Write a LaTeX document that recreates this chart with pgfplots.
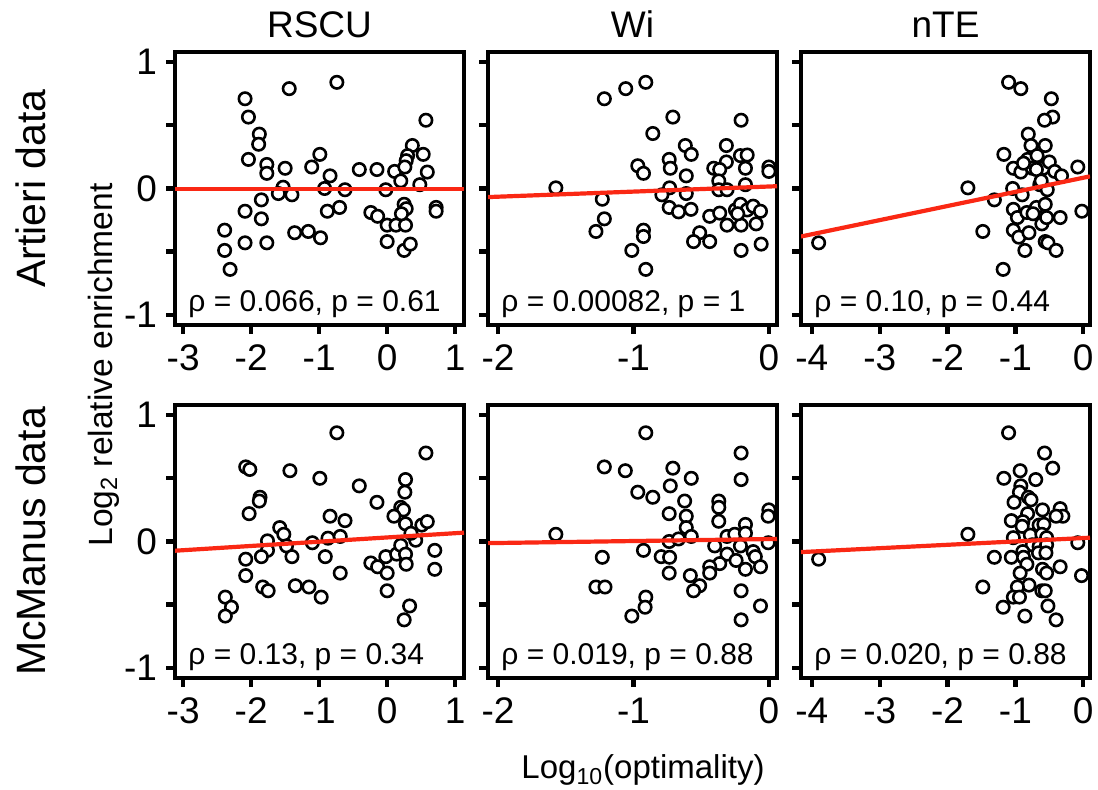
\documentclass[border=0pt]{standalone}
\usepackage{pgfplots}
\pgfplotsset{compat=1.18}
\usepackage{fontspec}
\setmainfont{Liberation Sans}
\definecolor{regred}{RGB}{250,40,20}

\pgfplotsset{
  panel/.style={
    scale only axis, width=144.5pt, height=136.5pt,
    ymin=-1.08, ymax=1.08,
    axis line style={line width=2.2pt},
    every tick/.style={line width=2.2pt, black},
    tick align=outside, major tick length=4.5pt,
    xtick pos=bottom, ytick pos=left,
    ytick={-1,-0.5,0,0.5,1},
    yticklabels={},
    ticklabel style={font=\fontsize{18.5}{20}\selectfont},
    xticklabel style={yshift=-2pt},
    yticklabel style={xshift=-1pt},
    clip mode=individual,
  },
  ylab/.style={yticklabels={-1,,0,,1}},
  pts/.style={only marks, mark=*, mark size=3.1pt,
    mark options={fill=white, draw=black, line width=1.3pt}},
  reg/.style={no marks, line width=2.1pt, regred},
  col1/.style={xmin=-3.12, xmax=1.13, xtick={-3,-2,-1,0,1}, xticklabels={-3,-2,-1,0,1}, ylab},
  col2/.style={xmin=-2.074, xmax=0.06, xtick={-2,-1,0}, xticklabels={-2,-1,0}},
  col3/.style={xmin=-4.16, xmax=0.1, xtick={-4,-3,-2,-1,0}, xticklabels={-4,-3,-2,-1,0}},
}
\newcommand{\stat}[1]{\node[anchor=base west, font=\fontsize{15}{17}\selectfont, inner sep=0pt] at (axis description cs:0.045,0.05) {#1};}
\newcommand{\ctitle}[1]{\node[anchor=base, font=\fontsize{18.5}{20}\selectfont, inner sep=0pt] at ([yshift=7pt]axis description cs:0.5,1) {#1};}

\pgfplotstableread{
x y
-2.09 0.71
-2.04 0.565
-1.44 0.79
-0.74 0.84
0.57 0.54
-1.88 0.43
-1.89 0.35
-2.04 0.23
-1.77 0.19
-1.77 0.12
-1.50 0.16
-1.11 0.17
-0.99 0.27
-0.84 0.10
-0.41 0.15
-0.15 0.15
0.11 0.135
0.37 0.34
0.30 0.26
0.28 0.22
0.26 0.17
0.20 0.06
0.53 0.27
0.59 0.13
0.48 0.03
-0.02 -0.01
-0.62 -0.01
-0.92 0.0
-1.53 0.01
-1.60 -0.04
-1.40 -0.05
-1.85 -0.09
-2.09 -0.18
-1.85 -0.24
-2.39 -0.33
-2.39 -0.49
-2.31 -0.64
-2.09 -0.43
-1.77 -0.43
-1.36 -0.35
-1.16 -0.34
-0.98 -0.39
-0.88 -0.18
-0.70 -0.15
-0.24 -0.19
-0.14 -0.22
0.00 -0.29
0.13 -0.29
0.27 -0.29
0.00 -0.42
0.25 -0.49
0.34 -0.44
0.25 -0.125
0.28 -0.16
0.21 -0.20
0.72 -0.15
0.72 -0.18
}\tA
\pgfplotstableread{
x y
-1.215 0.71
-1.057 0.79
-0.909 0.84
-0.709 0.565
-0.205 0.54
-0.857 0.435
-0.617 0.34
-0.573 0.27
-0.314 0.34
-0.21 0.26
-0.16 0.265
-0.314 0.21
-0.968 0.18
-0.926 0.12
-0.736 0.23
-0.728 0.16
-0.61 0.10
-0.407 0.16
-0.363 0.15
-0.37 0.06
-0.173 0.16
0.0 0.17
0.0 0.135
-1.573 0.005
-0.733 0.005
-0.37 -0.01
-0.309 -0.01
-0.173 0.03
-0.79 -0.05
-0.61 -0.04
-1.23 -0.085
-1.215 -0.24
-1.277 -0.34
-0.926 -0.33
-0.926 -0.38
-1.012 -0.49
-0.909 -0.64
-0.736 -0.15
-0.667 -0.185
-0.575 -0.165
-0.437 -0.22
-0.363 -0.195
-0.511 -0.35
-0.556 -0.42
-0.437 -0.42
-0.309 -0.29
-0.247 -0.17
-0.21 -0.125
-0.205 -0.29
-0.16 -0.17
-0.116 -0.14
-0.094 -0.28
-0.062 -0.18
-0.205 -0.49
-0.057 -0.44
-0.23 -0.20
}\tB
\pgfplotstableread{
x y
-3.90 -0.43
-1.70 0.005
-1.48 -0.34
-1.31 -0.09
-1.18 -0.64
-1.10 0.84
-0.92 0.79
-0.47 0.71
-0.45 0.565
-0.57 0.54
-0.81 0.43
-0.77 0.34
-0.56 0.34
-1.17 0.27
-0.82 0.23
-0.68 0.26
-1.03 0.16
-0.92 0.13
-0.75 0.16
-0.59 0.16
-0.50 0.21
-0.42 0.135
-0.32 0.10
-0.08 0.17
-1.04 0.0
-0.90 -0.05
-0.64 0.03
-0.53 -0.01
-1.03 -0.165
-0.97 -0.23
-0.83 -0.19
-0.69 -0.15
-0.56 -0.125
-0.61 -0.28
-0.54 -0.23
-0.34 -0.23
-0.02 -0.18
-1.03 -0.33
-0.95 -0.385
-0.80 -0.35
-0.86 -0.49
-0.56 -0.42
-0.52 -0.43
-0.40 -0.49
-0.69 0.15
-0.74 -0.20
-0.88 0.20
-0.62 0.06
}\tC
\pgfplotstableread{
x y
-0.74 0.86
0.57 0.70
-2.08 0.59
-2.02 0.57
-1.43 0.56
-0.99 0.50
-0.41 0.44
0.27 0.49
0.26 0.39
-1.87 0.35
-1.88 0.32
-0.15 0.31
-2.03 0.22
-0.84 0.20
-0.62 0.165
0.20 0.27
0.24 0.25
0.10 0.20
0.27 0.14
0.51 0.13
0.59 0.157
-1.58 0.11
-1.52 0.057
-1.76 0.005
-1.10 -0.01
-0.87 0.026
-0.69 0.04
-1.48 -0.035
-1.76 -0.07
-1.85 -0.12
-1.40 -0.12
-2.08 -0.14
-0.91 -0.12
-2.08 -0.27
-1.83 -0.36
-1.75 -0.39
-1.35 -0.35
-1.15 -0.36
-0.97 -0.44
-0.69 -0.25
-0.24 -0.17
-0.14 -0.20
-0.02 -0.12
0.0 -0.25
0.14 -0.10
0.20 -0.03
0.27 -0.10
0.28 -0.18
0.42 0.01
0.35 0.065
0.70 -0.07
0.70 -0.22
0.0 -0.39
0.33 -0.51
0.25 -0.62
-2.38 -0.44
-2.29 -0.52
-2.38 -0.59
}\tD
\pgfplotstableread{
x y
-0.909 0.86
-0.205 0.70
-1.215 0.59
-1.06 0.56
-0.709 0.58
-0.573 0.50
-0.205 0.49
-0.728 0.44
-0.968 0.39
-0.857 0.35
-0.622 0.32
-0.37 0.32
-0.37 0.27
-0.736 0.22
-0.61 0.20
-0.37 0.16
-0.61 0.11
0.0 0.25
-0.005 0.20
-0.173 0.135
-1.573 0.057
-0.736 0.0
-0.667 0.02
-0.573 0.04
-0.309 0.04
-0.252 0.057
-0.173 0.065
-0.005 -0.01
-0.40 -0.035
-0.21 -0.035
-0.926 -0.07
-0.795 -0.12
-0.733 -0.125
-1.23 -0.125
-0.309 -0.10
-0.116 -0.08
-0.10 -0.12
-0.242 -0.15
-0.363 -0.175
-0.437 -0.20
-0.437 -0.25
-0.173 -0.22
-0.062 -0.20
-0.736 -0.25
-0.58 -0.27
-0.511 -0.35
-0.556 -0.39
-1.277 -0.36
-1.21 -0.36
-0.909 -0.44
-0.914 -0.52
-1.012 -0.59
-0.205 -0.39
-0.062 -0.51
-0.205 -0.62
}\tE
\pgfplotstableread{
x y
-3.90 -0.14
-1.70 0.057
-1.48 -0.36
-1.31 -0.125
-1.18 -0.52
-1.10 0.86
-0.57 0.70
-0.45 0.58
-0.93 0.56
-1.17 0.50
-0.70 0.49
-0.92 0.44
-0.94 0.39
-0.81 0.35
-0.77 0.33
-1.02 0.31
-0.60 0.25
-0.34 0.26
-0.30 0.20
-0.40 0.20
-0.82 0.22
-1.06 0.165
-0.89 0.157
-0.90 0.12
-0.65 0.13
-0.58 0.136
-0.78 0.05
-0.61 0.057
-1.03 0.03
-0.54 0.03
-0.08 -0.01
-0.75 -0.026
-0.65 -0.04
-0.54 -0.026
-1.06 -0.125
-0.89 -0.08
-0.66 -0.09
-0.55 -0.09
-0.88 -0.125
-0.83 -0.18
-0.93 -0.25
-0.60 -0.22
-0.54 -0.25
-0.34 -0.20
-0.025 -0.27
-0.80 -0.345
-0.97 -0.36
-1.03 -0.44
-0.94 -0.44
-0.61 -0.39
-0.56 -0.39
-0.52 -0.51
-0.86 -0.59
-0.40 -0.62
}\tF

\begin{document}
\begin{tikzpicture}
\useasboundingbox (0,0) rectangle (549pt,395pt);
% Row 1
\begin{axis}[panel, col1, at={(87.5pt,232.5pt)}, anchor=south west]
\addplot[pts] table {\tA};
\addplot[reg] coordinates {(-3.12,-0.005) (1.13,-0.005)};
\stat{ρ = 0.066, p = 0.61}
\ctitle{RSCU}
\end{axis}
\begin{axis}[panel, col2, at={(244pt,232.5pt)}, anchor=south west]
\addplot[pts] table {\tB};
\addplot[reg] coordinates {(-2.074,-0.068) (0.06,0.018)};
\stat{ρ = 0.00082, p = 1}
\ctitle{Wi}
\end{axis}
\begin{axis}[panel, col3, at={(400.5pt,232.5pt)}, anchor=south west]
\addplot[pts] table {\tC};
\addplot[reg] coordinates {(-4.16,-0.38) (0.1,0.096)};
\stat{ρ = 0.10, p = 0.44}
\ctitle{nTE}
\end{axis}
% Row 2
\begin{axis}[panel, col1, at={(87.5pt,56pt)}, anchor=south west]
\addplot[pts] table {\tD};
\addplot[reg] coordinates {(-3.12,-0.073) (1.13,0.07)};
\stat{ρ = 0.13, p = 0.34}
\end{axis}
\begin{axis}[panel, col2, at={(244pt,56pt)}, anchor=south west]
\addplot[pts] table {\tE};
\addplot[reg] coordinates {(-2.074,-0.013) (0.06,0.02)};
\stat{ρ = 0.019, p = 0.88}
\end{axis}
\begin{axis}[panel, col3, at={(400.5pt,56pt)}, anchor=south west]
\addplot[pts] table {\tF};
\addplot[reg] coordinates {(-4.16,-0.084) (0.1,0.03)};
\stat{ρ = 0.020, p = 0.88}
\end{axis}
% labels
\node[rotate=90, anchor=base, font=\fontsize{20.5}{22}\selectfont, inner sep=0pt] at (22.5pt,300.75pt) {Artieri data};
\node[rotate=90, anchor=base, font=\fontsize{20.5}{22}\selectfont, inner sep=0pt] at (22.5pt,124.25pt) {McManus data};
\node[rotate=90, anchor=base, font=\fontsize{16.8}{18}\selectfont, inner sep=0pt] at (56pt,212.5pt) {Log\textsubscript{2} relative enrichment};
\node[anchor=base, font=\fontsize{16.5}{18}\selectfont, inner sep=0pt] at (321.5pt,5.5pt) {Log\textsubscript{10}(optimality)};
\end{tikzpicture}
\end{document}
